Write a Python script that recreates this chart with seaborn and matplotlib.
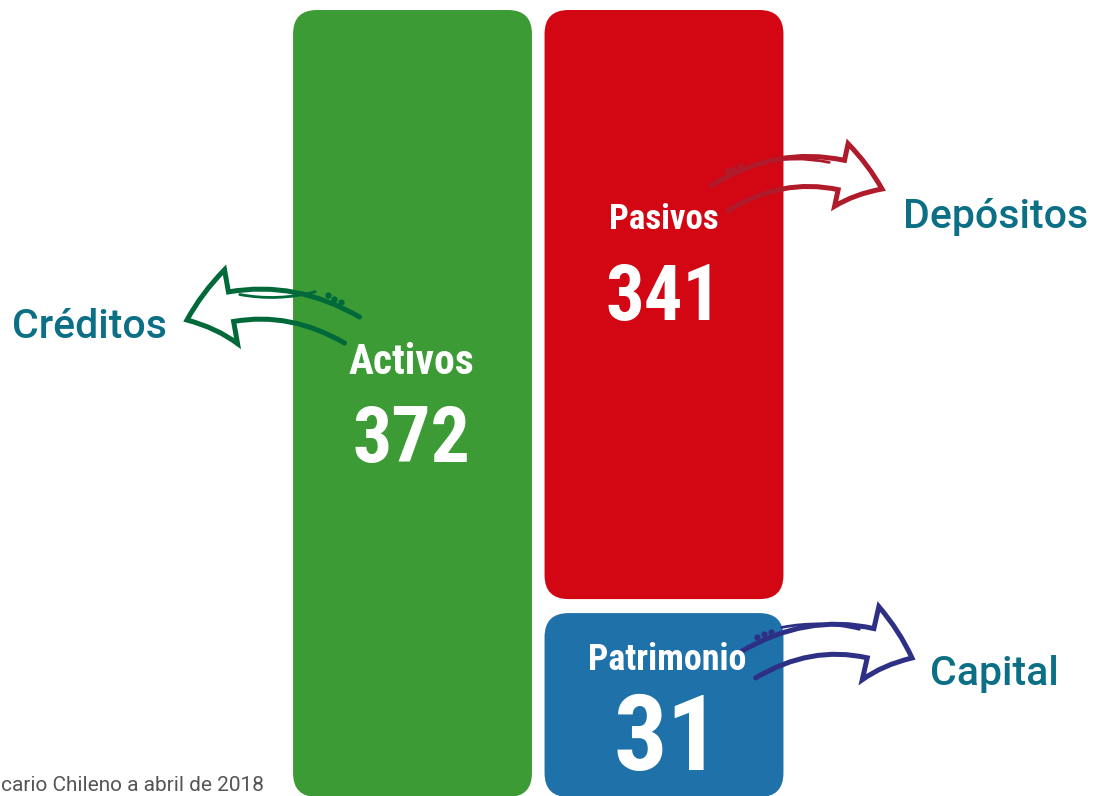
import os
import numpy as np
import pandas as pd
import matplotlib
matplotlib.use("Agg")
import matplotlib.pyplot as plt
import seaborn as sns
from matplotlib import font_manager
from matplotlib.font_manager import FontProperties
from matplotlib.patches import FancyBboxPatch, FancyArrowPatch, PathPatch
from matplotlib.path import Path
from matplotlib.transforms import IdentityTransform

# Datos del balance del sistema bancario
columnas = ["Activos", "Pasivos y patrimonio", "Pasivos y patrimonio"]
partidas = ["Activos", "Pasivos", "Patrimonio"]
valores = [372, 341, 31]
bases = [0, 31, 0]
destinos = ["Créditos", "Depósitos", "Capital"]
nota = "cario Chileno a abril de 2018"

colores_barra = ["#3C9B35", "#D30613", "#1F71A9"]
colores_flecha = ["#00693A", "#B01B2B", "#2E3086"]
color_destino = "#0B6F86"

W, H, DPI = 1093, 796, 100

sns.set_theme(style="white")


def buscar_condensada():
    # busca una fuente bold condensada entre las instaladas
    archivos = {}
    for f in font_manager.fontManager.ttflist:
        base = os.path.basename(f.fname).lower().rsplit(".", 1)[0]
        archivos[base] = f.fname
    preferidas = [
        ("notosans-extracondensedbold", 0.95),
        ("notosans-extracondensedsemibold", 0.95),
        ("robotocondensed-bold", 0.81),
        ("notosans-condensedbold", 0.8),
        ("liberationsansnarrow-bold", 0.8),
        ("dejavusanscondensed-bold", 0.7),
    ]
    for nombre, factor in preferidas:
        if nombre in archivos:
            return FontProperties(fname=archivos[nombre]), factor
    for base, ruta in archivos.items():
        if ("condensed" in base or "narrow" in base) and "bold" in base:
            return FontProperties(fname=ruta), 0.8
    return FontProperties(family="DejaVu Sans", weight="bold"), 0.65


fuente_num, factor = buscar_condensada()
fuente_txt = dict(family="Roboto", weight="medium")

fig = plt.figure(figsize=(W / DPI, H / DPI), dpi=DPI)
ax = fig.add_axes([0, 0, 1, 1])

df = pd.DataFrame({"columna": columnas, "partida": partidas,
                   "base": bases, "valor": valores})
df["tope"] = df["base"] + df["valor"]
orden_col = list(dict.fromkeys(columnas))
df["col_idx"] = df["columna"].map({c: i for i, c in enumerate(orden_col)})

sns.barplot(data=df, x="columna", y="tope", hue="partida", hue_order=partidas,
            palette=colores_barra, saturation=1, dodge=False, width=0.95,
            errorbar=None, legend=False, ax=ax)

# escala de potencia para que el patrimonio sea visible
P = 0.57
fwd = lambda v: np.sign(v) * np.abs(v) ** P
inv = lambda u: np.sign(u) * np.abs(u) ** (1 / P)
ax.set_yscale("function", functions=(fwd, inv))

# limites: columna 0 centrada en x=412.5 px, 251.5 px por categoria
S = 251.5
ax.set_xlim(-412.5 / S, (W - 412.5) / S)
top_px, bot_px = 10, 797
total = df["tope"].max()
k = fwd(total) / (bot_px - top_px)
ax.set_ylim(inv(-(H - bot_px) * k), inv(fwd(total) + top_px * k))
ax.axis("off")

# barras redondeadas en lugar de los rectangulos
gap = 7
for patch in list(ax.patches):
    x0, w, h = patch.get_x(), patch.get_width(), patch.get_height()
    col = int(round(x0 + w / 2))
    fila = df[(df["col_idx"] == col) & np.isclose(df["tope"], h)].iloc[-1]
    xa, ya = ax.transData.transform((x0, fila["base"]))
    xb, yb = ax.transData.transform((x0 + w, fila["tope"]))
    if fila["base"] > 0:
        ya += gap
    if fila["tope"] < df.loc[df["col_idx"] == col, "tope"].max():
        yb -= gap
    caja = FancyBboxPatch((xa, ya), xb - xa, yb - ya,
                          boxstyle="round,pad=0,rounding_size=24",
                          fc=patch.get_facecolor(), ec="none",
                          transform=IdentityTransform(), zorder=1)
    patch.remove()
    ax.add_patch(caja)


def px(x, y):
    return (x, H - y)


def texto(x, y, s, **kw):
    ax.text(*px(x, y), s, transform=IdentityTransform(), **kw)


# etiquetas dentro de las barras (centro x, base, tamaño)
etiq = [(411, 374, 37, 462, 69),
        (664, 229, 31, 320, 68),
        (667, 670, 32, 770, 94)]
for (cx, yb1, fs1, yb2, fs2), nom, val in zip(etiq, partidas, valores):
    f1 = fuente_num.copy()
    f1.set_size(fs1 * factor)
    f2 = fuente_num.copy()
    f2.set_size(fs2 * factor)
    texto(cx, yb1, nom, ha="center", va="baseline", color="white",
          fontproperties=f1, zorder=5)
    texto(cx, yb2, str(val), ha="center", va="baseline", color="white",
          fontproperties=f2, zorder=5)

# flechas hacia los destinos (tamaños en pixeles)
flechas = [
    dict(a=(352, 330), b=(187, 320), rad=0.25, hw=75, hl=46, tw=30,
         sw=((318, 291), (237, 294)), dots=[(328, 295), (334, 299), (341, 302)]),
    dict(a=(720, 198), b=(882, 189), rad=-0.27, hw=64, hl=43, tw=30,
         sw=((755, 164), (832, 163)), dots=[(727, 171), (733, 169), (740, 166)]),
    dict(a=(748, 665), b=(912, 658), rad=-0.27, hw=75, hl=44, tw=30,
         sw=((779, 628), (862, 630)), dots=[(757, 637), (764, 634), (771, 632)]),
]
for f, col in zip(flechas, colores_flecha):
    estilo = f"simple,head_length={f['hl']},head_width={f['hw']},tail_width={f['tw']}"
    ar = FancyArrowPatch(px(*f["a"]), px(*f["b"]), arrowstyle=estilo,
                         connectionstyle=f"arc3,rad={f['rad']}",
                         shrinkA=0, shrinkB=0, transform=IdentityTransform())
    contorno = ar.get_path()
    # se quita el cierre de la cola para dejarla abierta
    abierta = Path(contorno.vertices[:-2], contorno.codes[:-2])
    ax.add_patch(PathPatch(abierta, fc="none", ec=col, lw=3.6,
                           joinstyle="miter", capstyle="round",
                           transform=IdentityTransform(), zorder=4))
    s0, s1 = f["sw"]
    sw = FancyArrowPatch(px(*s0), px(*s1), arrowstyle="-",
                         connectionstyle="arc3,rad=-0.12",
                         color=col, lw=2, capstyle="round",
                         transform=IdentityTransform(), zorder=4)
    ax.add_patch(sw)
    dx = [px(*d)[0] for d in f["dots"]]
    dy = [px(*d)[1] for d in f["dots"]]
    ax.plot(dx, dy, "o", ms=3.5, color=col, transform=IdentityTransform(), zorder=4)

# destinos
pos_dest = [(12, 338), (903, 228), (930, 685)]
for (x, y), nom in zip(pos_dest, destinos):
    texto(x, y, nom, ha="left", va="baseline", color=color_destino,
          fontsize=29.5, **fuente_txt)

# nota al pie (parte visible en la imagen)
texto(1, 791, nota, ha="left", va="baseline", color="#555555",
      fontsize=15, family="Roboto")

fig.savefig("out.png", dpi=DPI)
